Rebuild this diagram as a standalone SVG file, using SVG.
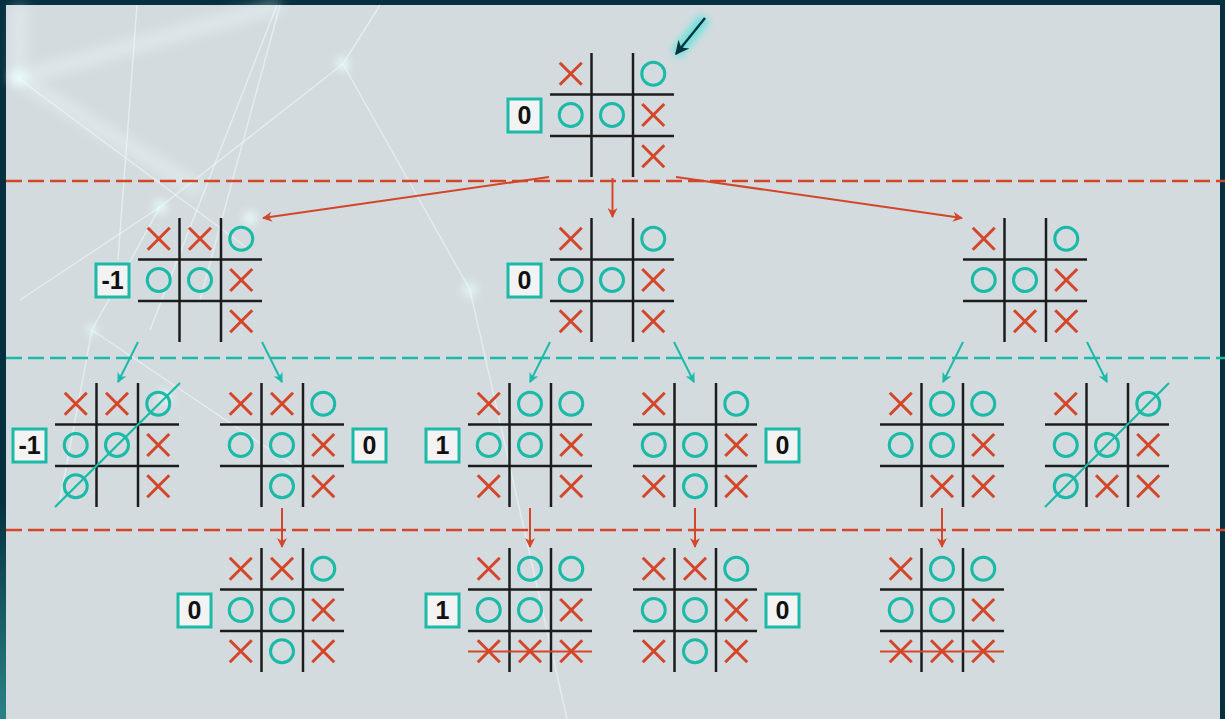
<svg xmlns="http://www.w3.org/2000/svg" xmlns:xlink="http://www.w3.org/1999/xlink" width="1225" height="719" viewBox="0 0 1225 719">
<defs>
<style>
.grid line{stroke:#1c1c1c;stroke-width:2.5}
.mx line{stroke:#d4462a;stroke-width:3}
.mo{fill:none;stroke:#1bbaa8;stroke-width:3}
.box{fill:#f3f3f3;stroke:#1bbaa8;stroke-width:3}
.score{font-family:"Liberation Sans",Arial,sans-serif;font-weight:bold;font-size:25px;fill:#111;text-anchor:middle}
.dash-red{stroke:#d4462a;stroke-width:2.5;stroke-dasharray:16 6}
.dash-teal{stroke:#1bbaa8;stroke-width:2.5;stroke-dasharray:16 6}
.ar-red{stroke:#d4462a;stroke-width:2;fill:none;marker-end:url(#hred)}
.ar-teal{stroke:#1bbaa8;stroke-width:2;fill:none;marker-end:url(#hteal)}
.win-teal{stroke:#1bbaa8;stroke-width:2.2}
.win-red{stroke:#d4462a;stroke-width:2.2}
.bgl{stroke:#f2ffff;stroke-opacity:0.5;stroke-width:1.5;fill:none}
.bgw{stroke:#f2ffff;stroke-opacity:0.35;stroke-width:14;fill:none}
</style>
<marker id="hred" viewBox="0 0 10 10" refX="9" refY="5" markerWidth="12" markerHeight="10" markerUnits="userSpaceOnUse" orient="auto">
<path d="M0,0 L10,5 L0,10 L3,5 z" fill="#d4462a"/>
</marker>
<marker id="hteal" viewBox="0 0 10 10" refX="9" refY="5" markerWidth="12" markerHeight="10" markerUnits="userSpaceOnUse" orient="auto">
<path d="M0,0 L10,5 L0,10 L3,5 z" fill="#1bbaa8"/>
</marker>
<marker id="hdark" viewBox="0 0 10 10" refX="9" refY="5" markerWidth="17" markerHeight="14" markerUnits="userSpaceOnUse" orient="auto">
<path d="M0,0 L10,5 L0,10 L3,5 z" fill="#0b3340"/>
</marker>
<filter id="glow" x="-50%" y="-50%" width="200%" height="200%">
<feGaussianBlur stdDeviation="3.5"/>
</filter>
<filter id="soft" x="-100%" y="-100%" width="300%" height="300%">
<feGaussianBlur stdDeviation="4"/>
</filter>
<filter id="blurwide" x="-20%" y="-20%" width="140%" height="140%">
<feGaussianBlur stdDeviation="6"/>
</filter>
<radialGradient id="cornerGlow" cx="0" cy="1" r="1">
<stop offset="0" stop-color="#3aa6a8" stop-opacity="0.7"/>
<stop offset="1" stop-color="#3aa6a8" stop-opacity="0"/>
</radialGradient>
<g id="grid" class="grid">
<line x1="41.5" y1="0" x2="41.5" y2="124"/>
<line x1="83" y1="0" x2="83" y2="124"/>
<line x1="0" y1="41.5" x2="124" y2="41.5"/>
<line x1="0" y1="83" x2="124" y2="83"/>
</g>
<g id="mx" class="mx">
<line x1="-11" y1="-11" x2="11" y2="11"/>
<line x1="-11" y1="11" x2="11" y2="-11"/>
</g>
<circle id="mo" class="mo" r="11.5"/>
</defs>

<g id="background">
<rect x="0" y="0" width="1225" height="719" fill="#05303f"/>
<rect x="0" y="500" width="120" height="219" fill="url(#cornerGlow)"/>
<rect x="6" y="5" width="1214" height="714" fill="#d3dbdf"/>
<g filter="url(#blurwide)">
<path class="bgw" d="M18,78 L280,5"/>
<path class="bgw" d="M18,78 L200,190"/>
<path class="bgw" d="M18,78 L20,5"/>
</g>
<path class="bgl" d="M137,5 L118,260"/>
<path class="bgl" d="M277,5 L150,330"/>
<path class="bgl" d="M280,5 L200,300"/>
<path class="bgl" d="M343,64 L470,290 L567,719"/>
<path class="bgl" d="M18,78 L250,250"/>
<path class="bgl" d="M343,64 L160,207 L92,330"/>
<path class="bgl" d="M160,207 L20,300"/>
<path class="bgl" d="M92,330 L300,470"/>
<path class="bgl" d="M92,330 L60,500"/>
<path class="bgl" d="M343,64 L380,5"/>
<circle cx="18" cy="78" r="8" fill="#eaffff" opacity="0.85" filter="url(#soft)"/>
<circle cx="343" cy="64" r="7" fill="#eaffff" opacity="0.8" filter="url(#soft)"/>
<circle cx="160" cy="207" r="7" fill="#eaffff" opacity="0.8" filter="url(#soft)"/>
<circle cx="92" cy="330" r="5" fill="#eaffff" opacity="0.8" filter="url(#soft)"/>
<circle cx="250" cy="218" r="7" fill="#eaffff" opacity="0.8" filter="url(#soft)"/>
<circle cx="470" cy="290" r="8" fill="#eaffff" opacity="0.6" filter="url(#soft)"/>
<circle cx="165" cy="397" r="7" fill="#eaffff" opacity="0.7" filter="url(#soft)"/>
</g>

<g id="separators">
<line class="dash-red" x1="6" y1="181" x2="1225" y2="181"/>
<line class="dash-teal" x1="6" y1="358" x2="1225" y2="358"/>
<line class="dash-red" x1="6" y1="530" x2="1225" y2="530"/>
</g>

<g id="connectors">
<line x1="705" y1="18" x2="676" y2="54" stroke="#3ee6d8" stroke-width="12" opacity="0.7" filter="url(#glow)"/>
<line x1="705" y1="18" x2="676" y2="54" stroke="#0b3340" stroke-width="2.4" marker-end="url(#hdark)"/>
<line class="ar-red" x1="549" y1="177" x2="263" y2="218"/>
<line class="ar-red" x1="612.5" y1="178" x2="612.5" y2="217"/>
<line class="ar-red" x1="676" y1="177" x2="962" y2="218"/>
<line class="ar-teal" x1="138" y1="342" x2="118" y2="382"/>
<line class="ar-teal" x1="262" y1="342" x2="282" y2="382"/>
<line class="ar-teal" x1="550" y1="342" x2="530" y2="382"/>
<line class="ar-teal" x1="674" y1="342" x2="694" y2="382"/>
<line class="ar-teal" x1="963" y1="342" x2="943" y2="382"/>
<line class="ar-teal" x1="1087" y1="342" x2="1107" y2="382"/>
<line class="ar-red" x1="282" y1="508" x2="282" y2="547"/>
<line class="ar-red" x1="530" y1="508" x2="530" y2="547"/>
<line class="ar-red" x1="695" y1="508" x2="695" y2="547"/>
<line class="ar-red" x1="942" y1="508" x2="942" y2="547"/>
</g>

<!-- Level 0 -->
<g id="board-root" transform="translate(550,53)">
<use href="#grid"/>
<use href="#mx" x="20.75" y="20.75"/><use href="#mo" x="103.25" y="20.75"/>
<use href="#mo" x="20.75" y="62"/><use href="#mo" x="62" y="62"/><use href="#mx" x="103.25" y="62"/>
<use href="#mx" x="103.25" y="103.25"/>
<rect class="box" x="-42" y="46" width="33" height="33"/><text class="score" x="-25.5" y="71">0</text>
</g>

<!-- Level 1 -->
<g id="board-1a" transform="translate(138,218)">
<use href="#grid"/>
<use href="#mx" x="20.75" y="20.75"/><use href="#mx" x="62" y="20.75"/><use href="#mo" x="103.25" y="20.75"/>
<use href="#mo" x="20.75" y="62"/><use href="#mo" x="62" y="62"/><use href="#mx" x="103.25" y="62"/>
<use href="#mx" x="103.25" y="103.25"/>
<rect class="box" x="-42" y="46" width="33" height="33"/><text class="score" x="-25.5" y="71">-1</text>
</g>
<g id="board-1b" transform="translate(550,218)">
<use href="#grid"/>
<use href="#mx" x="20.75" y="20.75"/><use href="#mo" x="103.25" y="20.75"/>
<use href="#mo" x="20.75" y="62"/><use href="#mo" x="62" y="62"/><use href="#mx" x="103.25" y="62"/>
<use href="#mx" x="20.75" y="103.25"/><use href="#mx" x="103.25" y="103.25"/>
<rect class="box" x="-42" y="46" width="33" height="33"/><text class="score" x="-25.5" y="71">0</text>
</g>
<g id="board-1c" transform="translate(963,218)">
<use href="#grid"/>
<use href="#mx" x="20.75" y="20.75"/><use href="#mo" x="103.25" y="20.75"/>
<use href="#mo" x="20.75" y="62"/><use href="#mo" x="62" y="62"/><use href="#mx" x="103.25" y="62"/>
<use href="#mx" x="62" y="103.25"/><use href="#mx" x="103.25" y="103.25"/>
</g>

<!-- Level 2 -->
<g id="board-2a" transform="translate(55,383)">
<use href="#grid"/>
<use href="#mx" x="20.75" y="20.75"/><use href="#mx" x="62" y="20.75"/><use href="#mo" x="103.25" y="20.75"/>
<use href="#mo" x="20.75" y="62"/><use href="#mo" x="62" y="62"/><use href="#mx" x="103.25" y="62"/>
<use href="#mo" x="20.75" y="103.25"/><use href="#mx" x="103.25" y="103.25"/>
<line class="win-teal" x1="0" y1="124" x2="125" y2="0"/>
<rect class="box" x="-42" y="46" width="33" height="33"/><text class="score" x="-25.5" y="71">-1</text>
</g>
<g id="board-2b" transform="translate(220,383)">
<use href="#grid"/>
<use href="#mx" x="20.75" y="20.75"/><use href="#mx" x="62" y="20.75"/><use href="#mo" x="103.25" y="20.75"/>
<use href="#mo" x="20.75" y="62"/><use href="#mo" x="62" y="62"/><use href="#mx" x="103.25" y="62"/>
<use href="#mo" x="62" y="103.25"/><use href="#mx" x="103.25" y="103.25"/>
<rect class="box" x="133" y="46" width="33" height="33"/><text class="score" x="149.5" y="71">0</text>
</g>
<g id="board-2c" transform="translate(468,383)">
<use href="#grid"/>
<use href="#mx" x="20.75" y="20.75"/><use href="#mo" x="62" y="20.75"/><use href="#mo" x="103.25" y="20.75"/>
<use href="#mo" x="20.75" y="62"/><use href="#mo" x="62" y="62"/><use href="#mx" x="103.25" y="62"/>
<use href="#mx" x="20.75" y="103.25"/><use href="#mx" x="103.25" y="103.25"/>
<rect class="box" x="-42" y="46" width="33" height="33"/><text class="score" x="-25.5" y="71">1</text>
</g>
<g id="board-2d" transform="translate(633,383)">
<use href="#grid"/>
<use href="#mx" x="20.75" y="20.75"/><use href="#mo" x="103.25" y="20.75"/>
<use href="#mo" x="20.75" y="62"/><use href="#mo" x="62" y="62"/><use href="#mx" x="103.25" y="62"/>
<use href="#mx" x="20.75" y="103.25"/><use href="#mo" x="62" y="103.25"/><use href="#mx" x="103.25" y="103.25"/>
<rect class="box" x="133" y="46" width="33" height="33"/><text class="score" x="149.5" y="71">0</text>
</g>
<g id="board-2e" transform="translate(880,383)">
<use href="#grid"/>
<use href="#mx" x="20.75" y="20.75"/><use href="#mo" x="62" y="20.75"/><use href="#mo" x="103.25" y="20.75"/>
<use href="#mo" x="20.75" y="62"/><use href="#mo" x="62" y="62"/><use href="#mx" x="103.25" y="62"/>
<use href="#mx" x="62" y="103.25"/><use href="#mx" x="103.25" y="103.25"/>
</g>
<g id="board-2f" transform="translate(1045,383)">
<use href="#grid"/>
<use href="#mx" x="20.75" y="20.75"/><use href="#mo" x="103.25" y="20.75"/>
<use href="#mo" x="20.75" y="62"/><use href="#mo" x="62" y="62"/><use href="#mx" x="103.25" y="62"/>
<use href="#mo" x="20.75" y="103.25"/><use href="#mx" x="62" y="103.25"/><use href="#mx" x="103.25" y="103.25"/>
<line class="win-teal" x1="0" y1="124" x2="124" y2="0"/>
</g>

<!-- Level 3 -->
<g id="board-3a" transform="translate(220,548)">
<use href="#grid"/>
<use href="#mx" x="20.75" y="20.75"/><use href="#mx" x="62" y="20.75"/><use href="#mo" x="103.25" y="20.75"/>
<use href="#mo" x="20.75" y="62"/><use href="#mo" x="62" y="62"/><use href="#mx" x="103.25" y="62"/>
<use href="#mx" x="20.75" y="103.25"/><use href="#mo" x="62" y="103.25"/><use href="#mx" x="103.25" y="103.25"/>
<rect class="box" x="-42" y="46" width="33" height="33"/><text class="score" x="-25.5" y="71">0</text>
</g>
<g id="board-3b" transform="translate(468,548)">
<use href="#grid"/>
<use href="#mx" x="20.75" y="20.75"/><use href="#mo" x="62" y="20.75"/><use href="#mo" x="103.25" y="20.75"/>
<use href="#mo" x="20.75" y="62"/><use href="#mo" x="62" y="62"/><use href="#mx" x="103.25" y="62"/>
<use href="#mx" x="20.75" y="103.25"/><use href="#mx" x="62" y="103.25"/><use href="#mx" x="103.25" y="103.25"/>
<line class="win-red" x1="0" y1="103.5" x2="124" y2="103.5"/>
<rect class="box" x="-42" y="46" width="33" height="33"/><text class="score" x="-25.5" y="71">1</text>
</g>
<g id="board-3c" transform="translate(633,548)">
<use href="#grid"/>
<use href="#mx" x="20.75" y="20.75"/><use href="#mx" x="62" y="20.75"/><use href="#mo" x="103.25" y="20.75"/>
<use href="#mo" x="20.75" y="62"/><use href="#mo" x="62" y="62"/><use href="#mx" x="103.25" y="62"/>
<use href="#mx" x="20.75" y="103.25"/><use href="#mo" x="62" y="103.25"/><use href="#mx" x="103.25" y="103.25"/>
<rect class="box" x="133" y="46" width="33" height="33"/><text class="score" x="149.5" y="71">0</text>
</g>
<g id="board-3d" transform="translate(880,548)">
<use href="#grid"/>
<use href="#mx" x="20.75" y="20.75"/><use href="#mo" x="62" y="20.75"/><use href="#mo" x="103.25" y="20.75"/>
<use href="#mo" x="20.75" y="62"/><use href="#mo" x="62" y="62"/><use href="#mx" x="103.25" y="62"/>
<use href="#mx" x="20.75" y="103.25"/><use href="#mx" x="62" y="103.25"/><use href="#mx" x="103.25" y="103.25"/>
<line class="win-red" x1="0" y1="103.5" x2="124" y2="103.5"/>
</g>
</svg>
